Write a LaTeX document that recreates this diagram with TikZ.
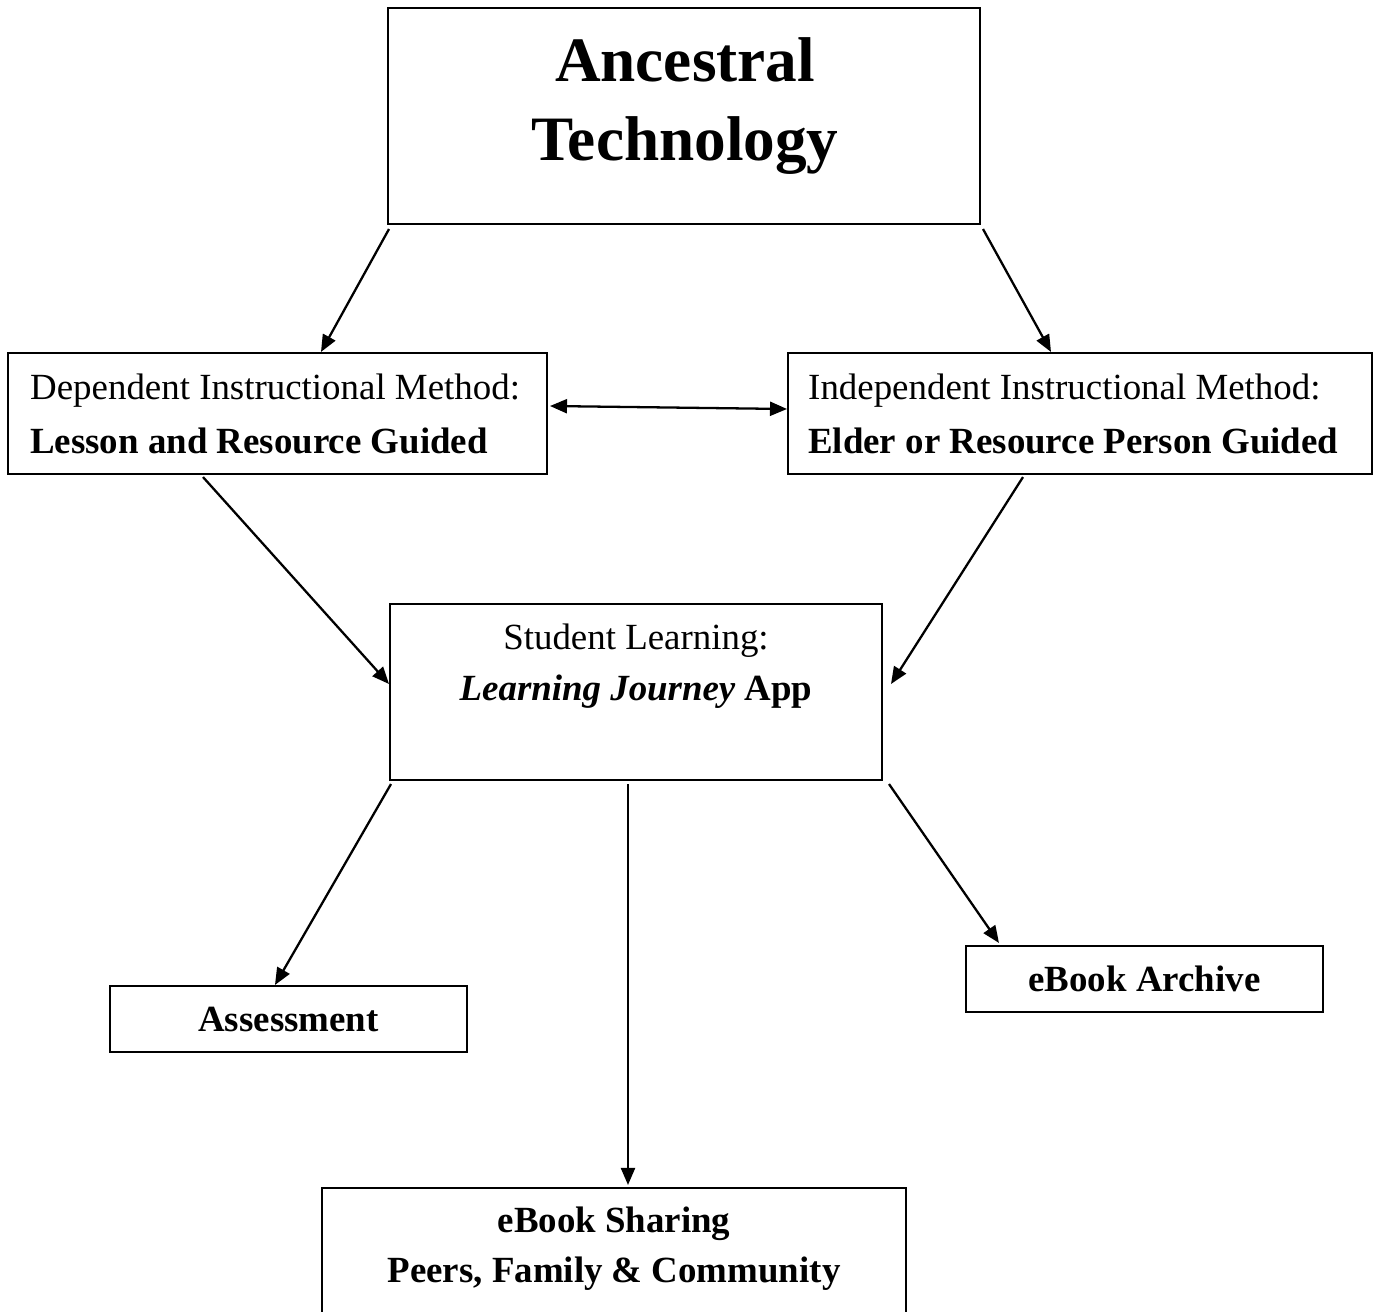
\documentclass[tikz,border=0pt]{standalone}
\usepackage{fontspec}
\setmainfont{Liberation Serif}
\usetikzlibrary{arrows.meta,positioning,calc}

\begin{document}
\begin{tikzpicture}[x=0.02cm, y=-0.02cm,
    box/.style={rectangle, draw=black, line width=1.2pt, inner sep=0pt, fill=white},
    bigtext/.style={font=\fontsize{36}{40}\selectfont\bfseries},
    plaintext/.style={font=\fontsize{21}{25}\selectfont},
    boldtext/.style={font=\fontsize{21}{25}\selectfont\bfseries},
    link/.style={line width=1.3pt},
    >={Triangle[length=0.34cm,width=0.28cm]}
  ]
    \clip (0,0) rectangle (1377,1312);
    \fill[white] (0,0) rectangle (1377,1312);

    % Ancestral technology
    \node[box, minimum width=11.84cm, minimum height=4.32cm] (top) at (684,116) {};
    \node[bigtext] (topa) at (685,60) {Ancestral};
    \node[bigtext] (topb) at (685,146) {Technology};

    % Instructional methods
    \node[box, minimum width=10.78cm, minimum height=2.42cm] (dep) at (277.5,413.5) {};
    \node[plaintext, anchor=west] (depa) at (24,391) {Dependent Instructional Method:};
    \node[boldtext, anchor=west] (depb) at (24,441) {Lesson and Resource Guided};

    \node[box, minimum width=11.68cm, minimum height=2.42cm] (ind) at (1080,413.5) {};
    \node[plaintext, anchor=west] (inda) at (802,391) {Independent Instructional Method:};
    \node[boldtext, anchor=west] (indb) at (802,441) {Elder or Resource Person Guided};

    % Student learning
    \node[box, minimum width=9.84cm, minimum height=3.52cm] (stud) at (636,692) {};
    \node[plaintext] (studa) at (636,641) {Student Learning:};
    \node[boldtext] (studb) at (636,692) {\textit{Learning Journey} App};

    % Outputs
    \node[box, boldtext, minimum width=7.14cm, minimum height=1.32cm] (assess) at (288.5,1019) {Assessment};
    \node[box, boldtext, minimum width=7.14cm, minimum height=1.32cm] (arch) at (1144.5,979) {eBook Archive};

    \node[box, minimum width=11.68cm, minimum height=3.04cm] (share) at (614,1264) {};
    \node[boldtext] (sharea) at (614,1224) {eBook Sharing};
    \node[boldtext] (shareb) at (614,1274) {Peers, Family \& Community};

    % Arrows: technology -> methods
    \draw[->, link] ($(top.south west)+(2,4)$) -- ($(dep.north west)+(314,0)$);
    \draw[->, link] ($(top.south east)+(2,4)$) -- ($(ind.north west)+(264,0)$);
    \draw[<->, link] ($(dep.east)+(2,-7.5)$) -- ($(ind.west)+(0,-4.5)$);

    % Arrows: methods -> student learning
    \draw[->, link] ($(dep.south west)+(196,2)$) -- ($(stud.west)+(0,-8)$);
    \draw[->, link] ($(ind.south west)+(236,2)$) -- ($(stud.east)+(8,-8)$);

    % Arrows: student learning -> outputs
    \draw[->, link] ($(stud.south west)+(2,3)$) -- ($(assess.north west)+(166,0)$);
    \draw[->, link] ($(stud.south)+(-8,3)$) -- ($(share.north)+(14,-2)$);
    \draw[->, link] ($(stud.south east)+(6,3)$) -- ($(arch.north west)+(34,-2)$);
  \end{tikzpicture}
\end{document}
